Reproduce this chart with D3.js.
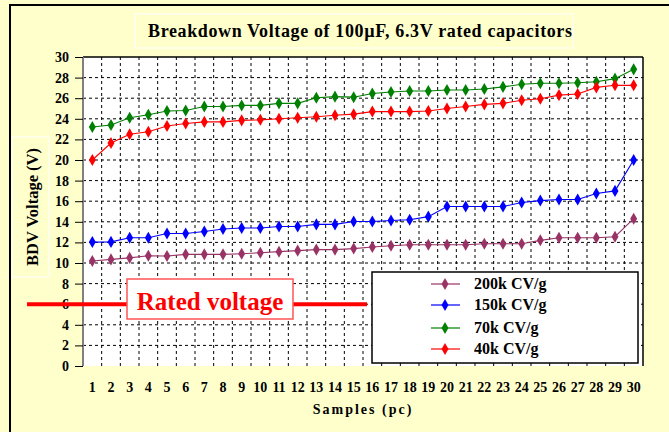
<!DOCTYPE html>
<html><head><meta charset="utf-8">
<script src="https://cdn.jsdelivr.net/npm/d3@7"></script>
<style>body{margin:0;background:#FFFFCC;} svg{display:block;} text{font-family:"Liberation Serif","Times New Roman","DejaVu Serif",serif;}</style>
</head><body>
<svg id="c" width="669" height="432"></svg>
<script>
const samples = d3.range(1, 31);
const yTicks = d3.range(0, 31, 2);
const s200k = [10.2,10.35,10.5,10.7,10.68,10.84,10.84,10.84,10.9,11.0,11.1,11.2,11.3,11.3,11.4,11.55,11.68,11.77,11.77,11.77,11.77,11.87,11.87,11.87,12.2,12.45,12.45,12.45,12.55,14.3];
const s150k = [12.03,12.05,12.45,12.45,12.87,12.87,13.06,13.3,13.4,13.4,13.55,13.55,13.75,13.75,14.03,14.03,14.13,14.2,14.5,15.48,15.48,15.48,15.48,15.87,16.06,16.16,16.16,16.74,17.0,20.0];
const s70k = [23.2,23.4,24.1,24.4,24.75,24.8,25.2,25.2,25.3,25.3,25.5,25.5,26.05,26.15,26.1,26.45,26.6,26.7,26.7,26.8,26.8,26.9,27.1,27.35,27.45,27.45,27.5,27.6,27.9,28.8];
const s40k = [20.0,21.65,22.5,22.75,23.3,23.55,23.7,23.7,23.85,23.9,24.0,24.1,24.2,24.35,24.45,24.7,24.7,24.7,24.75,25.0,25.2,25.4,25.5,25.8,25.95,26.3,26.4,27.05,27.25,27.25];
const seriesNames = ["200k CV/g","150k CV/g","70k CV/g","40k CV/g"];
const seriesColors = ["#993366","#0000FF","#008000","#FF0000"];
const seriesData = [s200k, s150k, s70k, s40k];
const ratedVoltage = 6;

const svg = d3.select("#c");
const serif = "Liberation Serif";

// outer frame
svg.append("rect").attr("x",10).attr("y",5).attr("width",720).attr("height",500)
  .attr("fill","#FFFFCC").attr("stroke","#000").attr("stroke-width",2);

// title box
svg.append("rect").attr("x",135).attr("y",14).attr("width",438).attr("height",34)
  .attr("fill","none").attr("stroke","#FFFFF0").attr("stroke-width",1.5);
svg.append("text").attr("x",148).attr("y",37)
  .style("font-family",serif).attr("font-weight","bold").attr("font-size",18)
  .attr("textLength",424).attr("lengthAdjust","spacing")
  .text("Breakdown Voltage of 100\u00B5F, 6.3V rated capacitors");

const L=83, R=643, T=57, B=366;
const x = d3.scaleBand().domain(samples).range([L,R]).padding(0);
const y = d3.scaleLinear().domain([0,30]).range([B,T]);

// plot area
svg.append("rect").attr("x",L).attr("y",T).attr("width",R-L).attr("height",B-T).attr("fill","#fff");

// grid horizontal
svg.append("g").selectAll("line").data(yTicks.filter(d=>d>0&&d<30)).join("line")
  .attr("x1",L).attr("x2",R).attr("y1",d=>y(d)).attr("y2",d=>y(d))
  .attr("stroke","#000").attr("stroke-width",1).attr("stroke-dasharray","3,3");
// grid vertical
svg.append("g").selectAll("line").data(samples.slice(1)).join("line")
  .attr("x1",d=>x(d)).attr("x2",d=>x(d)).attr("y1",T).attr("y2",B)
  .attr("stroke","#000").attr("stroke-width",1).attr("stroke-dasharray","3,3");

// borders
svg.append("line").attr("x1",L).attr("x2",R).attr("y1",T).attr("y2",T).attr("stroke","#000").attr("stroke-width",1.5);
svg.append("line").attr("x1",R).attr("x2",R).attr("y1",T).attr("y2",B).attr("stroke","#000").attr("stroke-width",1.5);
svg.append("line").attr("x1",L).attr("x2",L).attr("y1",T).attr("y2",B).attr("stroke","#808080").attr("stroke-width",2);

// y axis
const yAxis = d3.axisLeft(y).tickValues(yTicks).tickSize(8).tickPadding(6);
const gy = svg.append("g").attr("transform",`translate(${L},0)`).call(yAxis);
gy.select(".domain").remove();
gy.attr("font-family",null).attr("font-size",null);
gy.selectAll(".tick line").attr("stroke","#000").attr("stroke-width",1);
gy.selectAll(".tick text").style("font-family",serif).attr("font-weight","bold").attr("font-size",14).attr("fill","#000");

// x axis
const xAxis = d3.axisBottom(x).tickSize(0).tickPadding(16);
const gx = svg.append("g").attr("transform",`translate(0,${B})`).call(xAxis);
gx.select(".domain").remove();
gx.attr("font-family",null).attr("font-size",null);
gx.selectAll(".tick text").style("font-family",serif).attr("font-weight","bold").attr("font-size",14).attr("fill","#000");

// axis titles
svg.append("rect").attr("x",12).attr("y",137).attr("width",37).attr("height",140)
  .attr("fill","none").attr("stroke","#FFFFF0").attr("stroke-width",1.5);
svg.append("text").attr("transform","translate(38,207) rotate(-90)").attr("text-anchor","middle")
  .style("font-family",serif).attr("font-weight","bold").attr("font-size",16.5).text("BDV Voltage (V)");
svg.append("text").attr("x",363).attr("y",414).attr("text-anchor","middle")
  .style("font-family",serif).attr("font-weight","bold").attr("font-size",14).attr("letter-spacing",2)
  .text("Samples (pc)");

// series
const line = d3.line().x((d,i)=>x(samples[i])+x.bandwidth()/2).y(d=>y(d));
const diamond = d3.symbol().type(d3.symbolDiamond).size(42);
seriesData.forEach((data,k)=>{
  svg.append("path").datum(data).attr("d",line).attr("fill","none")
    .attr("stroke",seriesColors[k]).attr("stroke-width",1.1);
  svg.append("g").selectAll("path").data(data).join("path")
    .attr("transform",(d,i)=>`translate(${x(samples[i])+x.bandwidth()/2},${y(d)})`)
    .attr("d",diamond).attr("fill",seriesColors[k]);
});

// rated voltage
svg.append("line").attr("x1",27).attr("x2",367).attr("y1",y(ratedVoltage)).attr("y2",y(ratedVoltage))
  .attr("stroke","#FF0000").attr("stroke-width",4);
svg.append("rect").attr("x",127).attr("y",279).attr("width",166).attr("height",40)
  .attr("fill","#fff").attr("stroke","#FF5555").attr("stroke-width",1.5);
svg.append("text").attr("x",210).attr("y",310).attr("text-anchor","middle")
  .style("font-family",serif).attr("font-weight","bold").attr("font-size",25).attr("fill","#FF0000")
  .text("Rated voltage");

// legend
const lg = svg.append("g");
lg.append("rect").attr("x",372).attr("y",272).attr("width",266).attr("height",91)
  .attr("fill","#fff").attr("stroke","#000").attr("stroke-width",1.5);
const legY = [284,305,328,349];
seriesNames.forEach((n,k)=>{
  lg.append("line").attr("x1",431).attr("x2",460).attr("y1",legY[k]).attr("y2",legY[k])
    .attr("stroke",seriesColors[k]).attr("stroke-width",1.2);
  lg.append("path").attr("transform",`translate(445,${legY[k]})`).attr("d",diamond).attr("fill",seriesColors[k]);
  lg.append("text").attr("x",474).attr("y",legY[k]+5).style("font-family",serif).attr("font-weight","bold")
    .attr("font-size",16).text(n);
});
</script>
</body></html>
